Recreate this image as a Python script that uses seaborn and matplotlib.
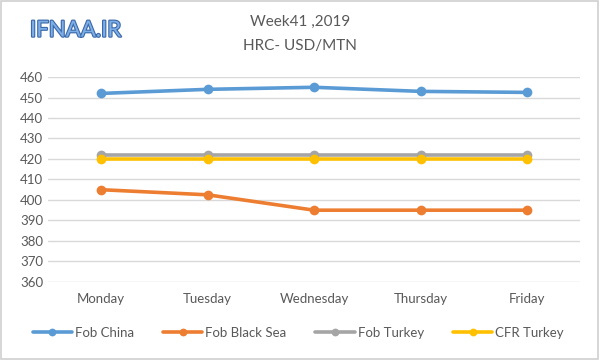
import pandas as pd
import matplotlib.pyplot as plt
import matplotlib.patheffects as pe
import seaborn as sns

# values
days = ["Monday", "Tuesday", "Wednesday", "Thursday", "Friday"]
fob_china = [452, 454, 455, 453, 452.5]
fob_black_sea = [405, 402.5, 395, 395, 395]
fob_turkey = [422, 422, 422, 422, 422]
cfr_turkey = [420, 420, 420, 420, 420]
series_names = ["Fob China", "Fob Black Sea", "Fob Turkey", "CFR Turkey"]
colors = ["#5B9BD5", "#ED7D31", "#A5A5A5", "#FFC000"]

rows = []
for name, vals in zip(series_names, [fob_china, fob_black_sea, fob_turkey, cfr_turkey]):
    for d, v in zip(days, vals):
        rows.append({"Day": d, "Price": v, "Series": name})
df = pd.DataFrame(rows)

sns.set_style("white")
plt.rcParams["font.family"] = ["Lato", "DejaVu Sans"]

fig = plt.figure(figsize=(6, 3.6), dpi=100)
ax = fig.add_axes([0.08, 0.217, 0.887, 0.569])

sns.lineplot(data=df, x="Day", y="Price", hue="Series", palette=colors,
             marker="o", markersize=7, markeredgewidth=0, linewidth=2.6,
             sort=False, ax=ax)

ax.set_ylim(360, 460)
ax.set_yticks(range(360, 461, 10))
ax.set_xlim(-0.5, 4.5)
ax.yaxis.grid(True, color="#D9D9D9", linewidth=1)
ax.set_axisbelow(True)
for s in ax.spines.values():
    s.set_visible(False)
ax.tick_params(axis="both", length=0, labelsize=9.5, colors="#595959")
ax.tick_params(axis="x", pad=8)
ax.set_xlabel("")
ax.set_ylabel("")

leg = ax.legend(loc="upper center", bbox_to_anchor=(0.47, -0.16), ncol=4, frameon=False,
                fontsize=9.5, labelcolor="#595959", handlelength=3, columnspacing=2.2,
                handletextpad=0.2, markerscale=0.8)

fig.text(0.5, 0.94, "Week41 ,2019", ha="center", va="center", fontsize=11, color="#595959")
fig.text(0.5, 0.872, "HRC- USD/MTN", ha="center", va="center", fontsize=11, color="#595959")

logo = fig.text(0.05, 0.915, "IFNAA.IR", ha="left", va="center", fontsize=16,
                color="#7EAEE6")
logo.set_path_effects([pe.withStroke(linewidth=1.6, foreground="#3A68A8")])

fig.patches.append(plt.Rectangle((0.002, 0.003), 0.995, 0.994, transform=fig.transFigure,
                                 fill=False, edgecolor="#D0D0D0", linewidth=1.2))

fig.savefig("out.png", dpi=100)
